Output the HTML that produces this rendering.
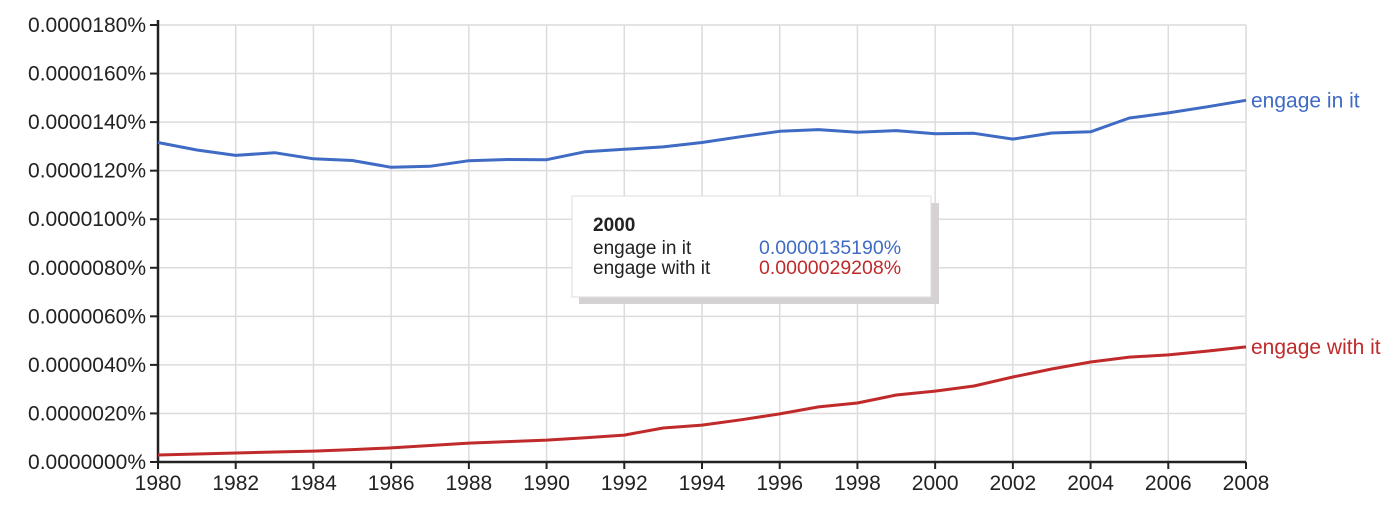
<!DOCTYPE html>
<html><head><meta charset="utf-8"><style>
body{margin:0;background:#fff;font-family:"Liberation Sans",Arial,sans-serif}
svg text{font-family:"Liberation Sans",Arial,sans-serif}
</style></head><body>
<svg id="chart" width="1400" height="510" xmlns="http://www.w3.org/2000/svg"></svg>
<script>
const years=[1980,1981,1982,1983,1984,1985,1986,1987,1988,1989,1990,1991,1992,1993,1994,1995,1996,1997,1998,1999,2000,2001,2002,2003,2004,2005,2006,2007,2008];
const engageIn=[13.16,12.85,12.63,12.74,12.49,12.42,12.14,12.18,12.41,12.46,12.45,12.78,12.88,12.98,13.16,13.4,13.62,13.69,13.58,13.65,13.519,13.54,13.3,13.55,13.6,14.17,14.38,14.63,14.9];
const engageWith=[0.29,0.33,0.37,0.41,0.45,0.51,0.58,0.68,0.78,0.84,0.9,1.0,1.11,1.4,1.52,1.74,1.98,2.27,2.43,2.76,2.9208,3.13,3.5,3.83,4.12,4.32,4.41,4.57,4.74];
const yTicks=[0,2,4,6,8,10,12,14,16,18];
const yTickLabels=["0.0000000%","0.0000020%","0.0000040%","0.0000060%","0.0000080%","0.0000100%","0.0000120%","0.0000140%","0.0000160%","0.0000180%"];
const xTicks=[1980,1982,1984,1986,1988,1990,1992,1994,1996,1998,2000,2002,2004,2006,2008];
const seriesNames=["engage in it","engage with it"];
const tooltipYear=2000;
const tooltipValues=["0.0000135190%","0.0000029208%"];

const svg=document.getElementById('chart');
const NS="http://www.w3.org/2000/svg";
const X0=158,X1=1246,Y0=462,Y1=25;
const xs=y=>X0+(y-1980)/(2008-1980)*(X1-X0);
const ys=v=>Y0-v/18*(Y0-Y1);
function mk(t,a,p){const e=document.createElementNS(NS,t);for(const k in a)e.setAttribute(k,a[k]);(p||svg).appendChild(e);return e;}

for(let i=0;i<yTicks.length;i++){
  const y=ys(yTicks[i]);
  const g=mk('line',{x1:X0,x2:X1,y1:y,y2:y,stroke:'#dcdcdc','stroke-width':1.5});
  
  
  const tk=mk('line',{x1:X0-8,x2:X0,y1:y,y2:y,stroke:'#222','stroke-width':2});
  
  
  const t=mk('text',{x:X0-12,y:y+7,'text-anchor':'end','font-size':21,fill:'#222'});
  t.textContent=yTickLabels[i];
  
  
}
for(const yr of xTicks){
  const x=xs(yr);
  if(yr>1980){const g=mk('line',{x1:x,x2:x,y1:Y1,y2:Y0,stroke:'#dcdcdc','stroke-width':1.5});
  
  }
  const tk=mk('line',{x1:x,x2:x,y1:Y0,y2:Y0+7,stroke:'#222','stroke-width':2});
  
  
  const t=mk('text',{x:x,y:Y0+28,'text-anchor':'middle','font-size':21,fill:'#222'});
  t.textContent=yr;
  
  
}
const ax=mk('line',{x1:X0,x2:X0,y1:Y1-5,y2:Y0,stroke:'#222','stroke-width':2.5});


const bx=mk('line',{x1:X0,x2:X1,y1:Y0,y2:Y0,stroke:'#222','stroke-width':2.5});



const series=[engageIn,engageWith],colors=['#3f6bc4','#c02a2a'];
for(let s=0;s<2;s++){
  const d=years.map((yr,i)=>(i?'L':'M')+xs(yr).toFixed(1)+','+ys(series[s][i]).toFixed(1)).join(' ');
  const p=mk('path',{d:d,fill:'none',stroke:colors[s],'stroke-width':3,'stroke-linejoin':'round'});
  
  
  const last=series[s][series[s].length-1];
  const t=mk('text',{x:X1+5,y:ys(last)+7,'font-size':21,fill:colors[s]});
  t.textContent=seriesNames[s];
  
  
}

const tg=mk('g',{});


mk('rect',{x:579,y:203,width:360,height:101,fill:'#d6d2d4'},tg);
mk('rect',{x:572,y:196,width:359,height:101,fill:'#fff',stroke:'#ddd','stroke-width':1},tg);
const ty=mk('text',{x:593,y:231,'font-size':19,'font-weight':'bold',fill:'#222'},tg);
ty.textContent=tooltipYear;


for(let s=0;s<2;s++){
  const a=mk('text',{x:593,y:254+s*20,'font-size':19,fill:'#222'},tg);
  a.textContent=seriesNames[s];
  
  
  const b=mk('text',{x:759,y:254+s*20,'font-size':19.5,fill:colors[s]},tg);
  b.textContent=tooltipValues[s];
  
  
}
</script>
</body></html>
